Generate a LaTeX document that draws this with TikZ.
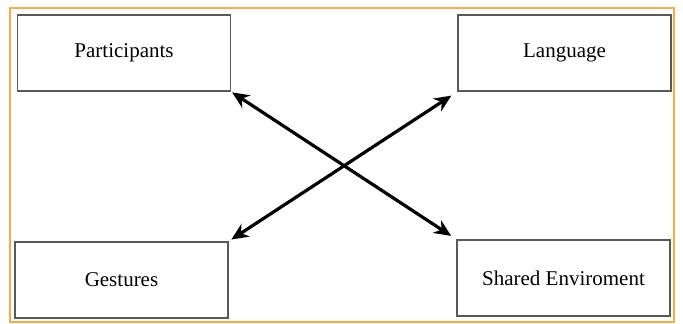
\documentclass[tikz,border=0pt]{standalone}
\usepackage{fontspec}
\setmainfont{Liberation Serif}
\usepackage{xcolor}
\usetikzlibrary{positioning,arrows.meta}
\definecolor{frameorange}{RGB}{247,172,70}

\begin{document}
\begin{tikzpicture}[x=1pt,y=-1pt,
    factor/.style={draw=black!65, line width=1.6pt, minimum width=213pt, minimum height=76pt,
                   inner sep=0pt, font=\fontsize{21}{25}\selectfont},
    link/.style={line width=3.2pt, {Stealth[length=17pt,width=15pt]}-{Stealth[length=17pt,width=15pt]}}]
    \useasboundingbox (0,0) rectangle (683,324);
    \draw[frameorange, line width=1.4pt] (10,8) rectangle (674,322); % outer frame
    \node[factor] (part) at (124,53) {Participants};
    \node[factor] (lang) at (564.5,53) {Language};
    \node[factor] (gest) at (121.5,280) {Gestures};
    \node[factor] (env) at (563.5,278) {Shared Enviroment};
    \draw[link, shorten <=1pt, shorten >=6pt] (part.south east) -- (env.north west);
    \draw[link, shorten <=3pt, shorten >=7pt] (gest.north east) -- (lang.south west);
\end{tikzpicture}
\end{document}
